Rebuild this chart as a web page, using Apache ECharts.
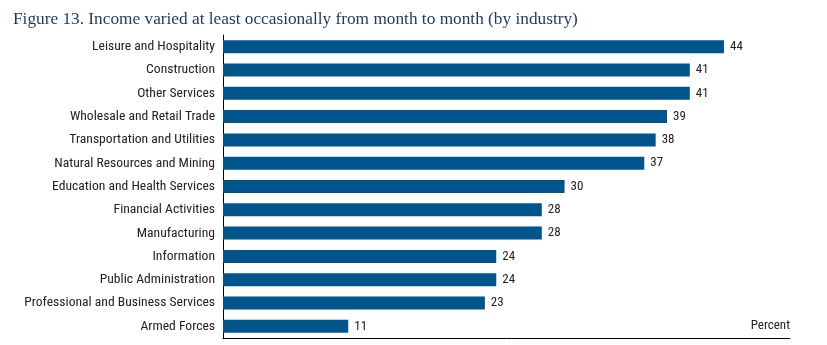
<!DOCTYPE html>
<html><head><meta charset="utf-8">
<script src="https://cdn.jsdelivr.net/npm/echarts@6/dist/echarts.min.js"></script>
<style>html,body{margin:0;padding:0;background:#fff}#c{width:827px;height:345px}</style>
</head><body><div id="c"></div>
<script>
const categories = ["Leisure and Hospitality","Construction","Other Services","Wholesale and Retail Trade","Transportation and Utilities","Natural Resources and Mining","Education and Health Services","Financial Activities","Manufacturing","Information","Public Administration","Professional and Business Services","Armed Forces"];
const values = [44,41,41,39,38,37,30,28,28,24,24,23,11];
const chart = echarts.init(document.getElementById('c'));
const labelFont = "'Liberation Sans Narrow', 'Roboto Condensed', 'Liberation Sans', sans-serif";
chart.setOption({
  animation:false,
  title:{text:"Figure 13. Income varied at least occasionally from month to month (by industry)",left:8,top:6,
    textStyle:{fontFamily:"'Liberation Serif', Georgia, serif",fontWeight:'normal',fontSize:17.3,color:'#1c3a5e'}},
  grid:{left:223,top:35,width:567,height:303,containLabel:false},
  xAxis:{type:'value',min:0,max:49.8,axisLine:{show:true,lineStyle:{color:'#000',width:1}},axisTick:{show:false},axisLabel:{show:false},splitLine:{show:false},
    name:'Percent',nameLocation:'end',nameGap:0,nameTextStyle:{fontFamily:labelFont,fontSize:13,color:'#222',align:'right',verticalAlign:'bottom',padding:[0,0,6,0]}},
  yAxis:{type:'category',data:categories,inverse:true,axisLine:{show:true,lineStyle:{color:'#000',width:1}},axisTick:{show:false},
    axisLabel:{fontFamily:labelFont,fontSize:13.6,color:'#222',margin:8}},
  series:[{type:'bar',data:values,barWidth:13,itemStyle:{color:'#00558c'},
    label:{show:true,position:'right',distance:6,fontFamily:labelFont,fontSize:13,color:'#222'}}]
});
</script></body></html>
